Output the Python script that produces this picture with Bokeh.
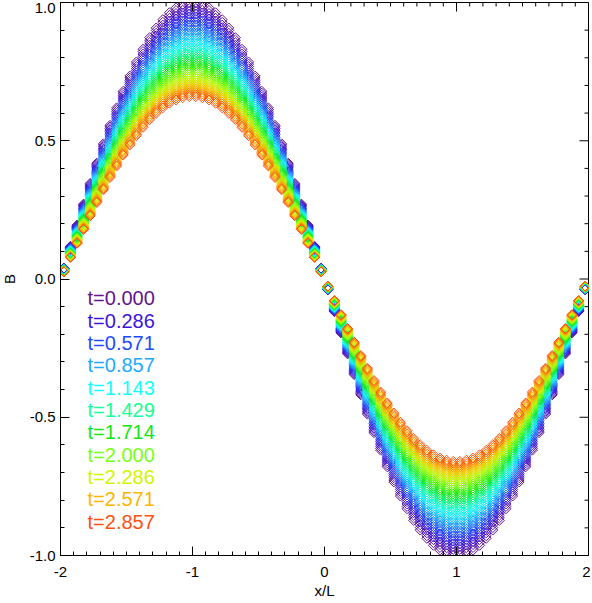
import numpy as np
from bokeh.plotting import figure
from bokeh.models import Range1d, FixedTicker, PrintfTickFormatter, ColumnDataSource
from bokeh.core.properties import value
from bokeh.embed import file_html
from bokeh.resources import INLINE

# ---------------- data ----------------
# grid of x/L cell centres (80 cells between -2 and 2)
x_grid = np.linspace(-1.975, 1.975, 80)

# initial (t=0) profile of B on the grid
b_profile = [
    0.039, 0.118, 0.195, 0.271, 0.346, 0.419, 0.489, 0.556, 0.619, 0.679,
    0.734, 0.785, 0.831, 0.873, 0.908, 0.938, 0.963, 0.981, 0.993, 0.999,
    0.999, 0.993, 0.981, 0.963, 0.938, 0.908, 0.873, 0.831, 0.785, 0.734,
    0.679, 0.619, 0.556, 0.489, 0.419, 0.346, 0.271, 0.195, 0.118, 0.039,
    -0.039, -0.118, -0.195, -0.271, -0.346, -0.419, -0.489, -0.556, -0.619, -0.679,
    -0.734, -0.785, -0.831, -0.873, -0.908, -0.938, -0.963, -0.981, -0.993, -0.999,
    -0.999, -0.993, -0.981, -0.963, -0.938, -0.908, -0.873, -0.831, -0.785, -0.734,
    -0.679, -0.619, -0.556, -0.489, -0.419, -0.346, -0.271, -0.195, -0.118, -0.039,
]

# amplitude of each snapshot (41 snapshots, t = 0 ... 2.857)
amplitudes = [
    1.000, 0.990, 0.979, 0.969, 0.959, 0.949, 0.940, 0.930, 0.920, 0.911,
    0.901, 0.892, 0.883, 0.874, 0.865, 0.856, 0.847, 0.838, 0.829, 0.821,
    0.812, 0.804, 0.796, 0.787, 0.779, 0.771, 0.763, 0.756, 0.748, 0.740,
    0.732, 0.725, 0.717, 0.710, 0.703, 0.695, 0.688, 0.681, 0.674, 0.667,
    0.660,
]

legend_labels = ["t=0.000", "t=0.286", "t=0.571", "t=0.857", "t=1.143", "t=1.429",
                 "t=1.714", "t=2.000", "t=2.286", "t=2.571", "t=2.857"]
legend_colors = ["#64148c", "#3c14dc", "#1e4bff", "#1eaaff", "#14ffff", "#14ff96",
                 "#14e614", "#78ff14", "#d2f500", "#ffb400", "#ff5014"]

x_ticks = [-2, -1, 0, 1, 2]
y_ticks = [-1.0, -0.5, 0.0, 0.5, 1.0]

# ---------------- styling helpers ----------------
def hex2rgb(h):
    return np.array([int(h[i:i + 2], 16) for i in (1, 3, 5)], dtype=float)

anchors = np.array([hex2rgb(c) for c in legend_colors])
n_curves = len(amplitudes)
pos = np.linspace(0, len(anchors) - 1, n_curves)
curve_colors = []
for p_ in pos:
    i0 = int(np.floor(p_))
    i1 = min(i0 + 1, len(anchors) - 1)
    f = p_ - i0
    c = anchors[i0] * (1 - f) + anchors[i1] * f
    curve_colors.append("#%02x%02x%02x" % tuple(int(round(v)) for v in c))

xs, ys, cs = [], [], []
prof = np.array(b_profile)
for a, col in zip(amplitudes, curve_colors):
    xs.extend(x_grid.tolist())
    ys.extend((a * prof).tolist())
    cs.extend([col] * len(x_grid))
src = ColumnDataSource(dict(x=xs, y=ys, c=cs))

FONT = "Liberation Sans"
FW, FH = 528, 553
X0, X1, Y0, Y1 = -2, 2, -1, 1

p = figure(frame_width=FW, frame_height=FH, output_backend="svg", toolbar_location=None,
           x_range=Range1d(X0, X1), y_range=Range1d(Y0, Y1),
           min_border_left=60, min_border_right=2, min_border_top=0, min_border_bottom=0,
           x_axis_label="x/L", y_axis_label="B")
p.styles = {"margin-left": "-3px", "margin-top": "2px"}
p.grid.visible = False
p.outline_line_color = "black"
p.outline_line_width = 1
p.background_fill_color = "white"
p.border_fill_color = "white"

p.scatter("x", "y", source=src, marker="square", angle=np.pi / 4, size=7,
          fill_color=None, line_color="c", line_width=1)

def style_axis(ax, minor, major, fmt):
    ax.ticker = FixedTicker(ticks=major, minor_ticks=minor)
    ax.formatter = PrintfTickFormatter(format=fmt)
    ax.axis_line_color = "black"
    ax.axis_line_width = 1
    ax.major_tick_in = 9
    ax.major_tick_out = 0
    ax.minor_tick_in = 4
    ax.minor_tick_out = 0
    ax.major_tick_line_color = "black"
    ax.minor_tick_line_color = "black"
    ax.major_tick_line_width = 1
    ax.minor_tick_line_width = 1
    ax.major_label_text_font = FONT
    ax.major_label_text_color = "black"
    ax.major_label_text_font_size = "15px"
    ax.axis_label_text_font = FONT
    ax.axis_label_text_font_style = "normal"
    ax.axis_label_text_color = "black"
    ax.axis_label_text_font_size = "15px"

x_minor = [round(X0 + 0.1 * i, 2) for i in range(41)]
y_minor = [round(Y0 + 0.1 * i, 2) for i in range(21)]

xa = p.xaxis[0]
style_axis(xa, x_minor, x_ticks, "%.0f")
xa.major_label_standoff = 11
xa.axis_label_standoff = 2

ya = p.yaxis[0]
style_axis(ya, y_minor, y_ticks, "%.1f")
ya.major_label_standoff = 5
ya.axis_label_standoff = 9

# inward ticks on the top and right sides of the box
maj_dy, min_dy = 9 * (Y1 - Y0) / FH, 4 * (Y1 - Y0) / FH
maj_dx, min_dx = 9 * (X1 - X0) / FW, 4 * (X1 - X0) / FW
tx = x_minor
tlen = [maj_dy if any(abs(t - m) < 1e-9 for m in x_ticks) else min_dy for t in tx]
p.segment(x0=tx, y0=[Y1] * len(tx), x1=tx, y1=[Y1 - l for l in tlen],
          line_color="black", line_width=1)
ty = y_minor
rlen = [maj_dx if any(abs(t - m) < 1e-9 for m in y_ticks) else min_dx for t in ty]
p.segment(x0=[X1] * len(ty), y0=ty, x1=[X1 - l for l in rlen], y1=ty,
          line_color="black", line_width=1)

# legend labels as text
leg_x = [-1.795] * len(legend_labels)
leg_y = [-0.0705 - 0.0807 * i for i in range(len(legend_labels))]
p.text(x=leg_x, y=leg_y, text=legend_labels, text_color=legend_colors,
       text_font=value(FONT), text_font_size="20px", text_baseline="middle",
       text_align="left")

open("out.html", "w").write(file_html(p, INLINE))
